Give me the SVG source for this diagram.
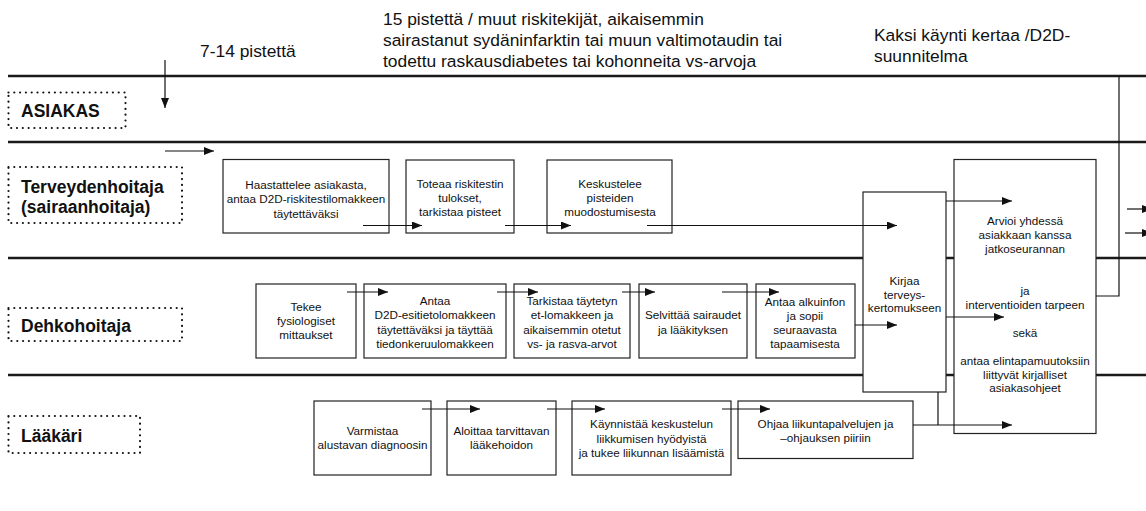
<svg xmlns="http://www.w3.org/2000/svg" width="1146" height="511" viewBox="0 0 1146 511">
<style>
.lane{stroke:#1a1a1a;stroke-width:2.4;fill:none}
.lbl{fill:none;stroke:#111;stroke-width:2.2;stroke-dasharray:0 5.8;stroke-linecap:round}
.lt{font-family:"Liberation Sans",Arial,sans-serif;font-weight:bold;font-size:17.5px;fill:#111}
.top{font-family:"Liberation Sans",Arial,sans-serif;font-size:17.4px;fill:#111}
.box{fill:#fff;stroke:#222;stroke-width:1.2}
.bt{font-family:"Liberation Sans",Arial,sans-serif;font-size:11.7px;fill:#111;text-anchor:middle}
.c{stroke:#111;stroke-width:1.2;fill:none}
.ca{stroke:#111;stroke-width:1.2;fill:none;marker-end:url(#ah)}
</style>
<defs>
<marker id="ah" markerUnits="userSpaceOnUse" markerWidth="12" markerHeight="10" refX="10" refY="4" orient="auto">
<path d="M0,0 L10,4 L0,8 z" fill="#111"/>
</marker>
</defs>
<rect width="1146" height="511" fill="#fff"/>

<g id="lanes">
<line class="lane" x1="8" y1="76" x2="1146" y2="76"/>
<line class="lane" x1="8" y1="142" x2="1146" y2="142"/>
<line class="lane" x1="8" y1="258" x2="1146" y2="258"/>
<line class="lane" x1="8" y1="375" x2="1146" y2="375"/>
</g>

<g id="top-labels">
<text class="top" x="200" y="57">7-14 pistettä</text>
<text class="top" x="383" y="25">15 pistettä / muut riskitekijät, aikaisemmin</text>
<text class="top" x="383" y="46">sairastanut sydäninfarktin tai muun valtimotaudin tai</text>
<text class="top" x="383" y="67">todettu raskausdiabetes tai kohonneita vs-arvoja</text>
<text class="top" x="874" y="40.5">Kaksi käynti kertaa /D2D-</text>
<text class="top" x="874" y="62">suunnitelma</text>
</g>

<g id="lane-asiakas">
<rect class="lbl" x="8.5" y="92.5" width="117" height="35.5"/>
<text class="lt" x="21" y="117">ASIAKAS</text>
</g>
<g id="lane-terveydenhoitaja">
<rect class="lbl" x="8.5" y="167" width="173.5" height="56"/>
<text class="lt" x="21" y="193">Terveydenhoitaja</text>
<text class="lt" x="21" y="213">(sairaanhoitaja)</text>
</g>
<g id="lane-dehkohoitaja">
<rect class="lbl" x="8.5" y="308" width="173.5" height="33"/>
<text class="lt" x="21" y="332">Dehkohoitaja</text>
</g>
<g id="lane-laakari">
<rect class="lbl" x="8.5" y="416" width="131.5" height="37"/>
<text class="lt" x="21" y="442">Lääkäri</text>
</g>

<g id="n-haastattelee">
<rect class="box" x="223" y="159.5" width="166" height="73.5"/>
<text class="bt" x="306" y="188.5">Haastattelee asiakasta,</text>
<text class="bt" x="306" y="203">antaa D2D-riskitestilomakkeen</text>
<text class="bt" x="306" y="217.5">täytettäväksi</text>
</g>
<g id="n-toteaa">
<rect class="box" x="406" y="160" width="108" height="73"/>
<text class="bt" x="460" y="187.5">Toteaa riskitestin</text>
<text class="bt" x="460" y="201.5">tulokset,</text>
<text class="bt" x="460" y="215.5">tarkistaa pisteet</text>
</g>
<g id="n-keskustelee">
<rect class="box" x="547" y="160" width="125" height="73"/>
<text class="bt" x="610" y="187.5">Keskustelee</text>
<text class="bt" x="610" y="201.5">pisteiden</text>
<text class="bt" x="610" y="215.5">muodostumisesta</text>
</g>
<g id="n-tekee">
<rect class="box" x="256" y="284" width="100" height="74"/>
<text class="bt" x="306" y="311">Tekee</text>
<text class="bt" x="306" y="325">fysiologiset</text>
<text class="bt" x="306" y="339">mittaukset</text>
</g>
<g id="n-antaa">
<rect class="box" x="364" y="284" width="142" height="74"/>
<text class="bt" x="435" y="305">Antaa</text>
<text class="bt" x="435" y="319.3">D2D-esitietolomakkeen</text>
<text class="bt" x="435" y="333.6">täytettäväksi ja täyttää</text>
<text class="bt" x="435" y="347.9">tiedonkeruulomakkeen</text>
</g>
<g id="n-tarkistaa">
<rect class="box" x="514" y="284" width="116" height="74"/>
<text class="bt" x="572" y="305">Tarkistaa täytetyn</text>
<text class="bt" x="572" y="319.3">et-lomakkeen ja</text>
<text class="bt" x="572" y="333.6">aikaisemmin otetut</text>
<text class="bt" x="572" y="347.9">vs- ja rasva-arvot</text>
</g>
<g id="n-selvittaa">
<rect class="box" x="639" y="284" width="108" height="74"/>
<text class="bt" x="693" y="319.3">Selvittää sairaudet</text>
<text class="bt" x="693" y="333.6">ja lääkityksen</text>
</g>
<g id="n-alkuinfo">
<rect class="box" x="756" y="284" width="99" height="74"/>
<text class="bt" x="805" y="306">Antaa alkuinfon</text>
<text class="bt" x="805" y="320">ja sopii</text>
<text class="bt" x="805" y="334.3">seuraavasta</text>
<text class="bt" x="805" y="348">tapaamisesta</text>
</g>
<g id="n-kirjaa">
<rect class="box" x="863" y="192" width="83" height="200"/>
<text class="bt" x="904.5" y="284.5">Kirjaa</text>
<text class="bt" x="904.5" y="298.5">terveys-</text>
<text class="bt" x="904.5" y="312">kertomukseen</text>
</g>
<g id="n-arvioi">
<rect class="box" x="954" y="159.5" width="142" height="274"/>
<text class="bt" x="1025" y="224.5">Arvioi yhdessä</text>
<text class="bt" x="1025" y="238.5">asiakkaan kanssa</text>
<text class="bt" x="1025" y="252.5">jatkoseurannan</text>
<text class="bt" x="1025" y="295">ja</text>
<text class="bt" x="1025" y="308.5">interventioiden tarpeen</text>
<text class="bt" x="1025" y="336.5">sekä</text>
<text class="bt" x="1025" y="365">antaa elintapamuutoksiin</text>
<text class="bt" x="1025" y="378.5">liittyvät kirjalliset</text>
<text class="bt" x="1025" y="392">asiakasohjeet</text>
</g>
<g id="n-varmistaa">
<rect class="box" x="314" y="401" width="117" height="74"/>
<text class="bt" x="372.5" y="435">Varmistaa</text>
<text class="bt" x="372.5" y="449.3">alustavan diagnoosin</text>
</g>
<g id="n-aloittaa">
<rect class="box" x="447" y="401" width="109" height="74"/>
<text class="bt" x="501.5" y="435">Aloittaa tarvittavan</text>
<text class="bt" x="501.5" y="449.3">lääkehoidon</text>
</g>
<g id="n-kaynnistaa">
<rect class="box" x="572" y="401" width="159" height="74"/>
<text class="bt" x="651.5" y="428">Käynnistää keskustelun</text>
<text class="bt" x="651.5" y="442.8">liikkumisen hyödyistä</text>
<text class="bt" x="651.5" y="456.6">ja tukee liikunnan lisäämistä</text>
</g>
<g id="n-ohjaa">
<rect class="box" x="738" y="401" width="175" height="57.5"/>
<text class="bt" x="825.5" y="427.5">Ohjaa liikuntapalvelujen ja</text>
<text class="bt" x="825.5" y="442">–ohjauksen piiriin</text>
</g>

<g id="connectors">
<line class="ca" x1="165" y1="60" x2="165" y2="108"/>
<line class="ca" x1="165" y1="151" x2="214" y2="151"/>
<line class="ca" x1="363" y1="225.5" x2="422" y2="225.5"/>
<line class="ca" x1="505" y1="225.5" x2="571" y2="225.5"/>
<line class="ca" x1="647" y1="225.5" x2="897" y2="225.5"/>
<line class="ca" x1="347" y1="292" x2="388" y2="292"/>
<line class="ca" x1="497" y1="292" x2="538" y2="292"/>
<line class="ca" x1="622" y1="292" x2="655" y2="292"/>
<line class="ca" x1="722" y1="292" x2="779" y2="292"/>
<line class="ca" x1="855" y1="325" x2="897" y2="325"/>
<line class="ca" x1="422" y1="409" x2="480" y2="409"/>
<line class="ca" x1="547" y1="409" x2="605" y2="409"/>
<line class="ca" x1="722" y1="409" x2="770" y2="409"/>
<line class="ca" x1="946" y1="201" x2="1012" y2="201"/>
<line class="ca" x1="946" y1="317" x2="1004" y2="317"/>
<line class="c" x1="938" y1="392" x2="938" y2="425"/>
<line class="ca" x1="913" y1="425" x2="1012" y2="425"/>
<polyline class="c" points="1096,296 1119,296 1119,76"/>
<line class="ca" x1="1127" y1="209" x2="1152" y2="209"/>
<line class="ca" x1="1125" y1="233" x2="1152" y2="233"/>
</g>
</svg>
